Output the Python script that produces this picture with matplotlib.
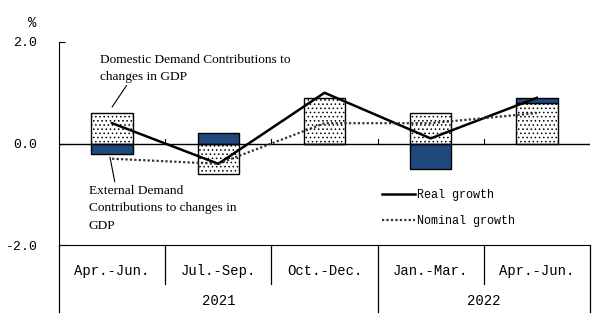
import matplotlib
matplotlib.use("Agg")
import matplotlib.pyplot as plt
from matplotlib.lines import Line2D
import numpy as np

quarters = ["Apr.-Jun.", "Jul.-Sep.", "Oct.-Dec.", "Jan.-Mar.", "Apr.-Jun."]
years = ["2021", "2022"]
year_spans = [3, 2]
domestic = [0.6, -0.6, 0.9, 0.6, 0.8]
external = [-0.2, 0.2, 0.0, -0.5, 0.1]
real = [0.4, -0.4, 1.0, 0.1, 0.9]
nominal = [-0.3, -0.4, 0.4, 0.4, 0.6]

mono = "Liberation Mono"
serif = "Liberation Serif"
navy = "#1F497D"
plt.rcParams["hatch.linewidth"] = 0.6

fig = plt.figure(figsize=(6.05, 3.25), dpi=100)
ax = fig.add_axes([59 / 605, 80 / 325, 531 / 605, 203 / 325])

x = np.arange(len(quarters)) + 0.5
w = 0.39

# stacked contributions: positives stack up, negatives stack down
dom = np.array(domestic)
ext = np.array(external)
ext_bottom = np.where(np.sign(ext) == np.sign(dom), dom, 0.0)
ax.bar(x, dom, w, color="white", edgecolor="black", hatch="....", linewidth=1.0, zorder=2)
ax.bar(x, ext, w, bottom=ext_bottom, color=navy, edgecolor="black", linewidth=1.0, zorder=2)

ax.plot(x, real, color="black", lw=1.8, zorder=4)
ax.plot(x, nominal, color="#333333", lw=1.6, ls=(0, (1, 1)), zorder=4)

ax.axhline(0, color="black", lw=1.0, zorder=3)
for b in range(1, len(quarters) + 1):
    ax.plot([b, b], [0, 0.08], color="black", lw=0.8, zorder=3)

ax.set_xlim(0, len(quarters))
ax.set_ylim(-2, 2)
ax.set_yticks([-2, 0, 2])
ax.set_yticklabels(["-2.0", "0.0", "2.0"], fontfamily=mono, fontsize=9.5)
ax.tick_params(axis="y", direction="in", length=4, pad=15.5)
ax.set_xticks([])
for s in ["top", "right"]:
    ax.spines[s].set_visible(False)
ax.text(-0.05, 1.095, "%", transform=ax.transAxes, fontfamily=mono, fontsize=10,
        ha="center", va="center")

# category axis below
trans = ax.get_xaxis_transform()
for i, q in enumerate(quarters):
    ax.text(x[i], -0.13, q, transform=trans, ha="center", va="center",
            fontfamily=mono, fontsize=10, clip_on=False)
year_edges = np.concatenate([[0], np.cumsum(year_spans)])
for b in range(len(quarters) + 1):
    bottom = -0.33 if b in year_edges else -0.19
    ax.plot([b, b], [0, bottom], transform=trans, color="black", lw=0.9, clip_on=False)
for j, yr in enumerate(years):
    mid = (year_edges[j] + year_edges[j + 1]) / 2
    ax.text(mid, -0.275, yr, transform=trans, ha="center", va="center",
            fontfamily=mono, fontsize=10, clip_on=False)

# annotations
ax.annotate("Domestic Demand Contributions to\nchanges in GDP", xy=(0.5, 0.72),
            xytext=(0.385, 1.48), textcoords="data", ha="left", va="center",
            fontfamily=serif, fontsize=9.6, linespacing=1.5,
            arrowprops=dict(arrowstyle="-", color="black", lw=0.8,
                            shrinkA=0, shrinkB=0, relpos=(0.15, 0.0)))
ax.annotate("External Demand\nContributions to changes in\nGDP", xy=(0.48, -0.27),
            xytext=(0.28, -1.28), textcoords="data", ha="left", va="center",
            fontfamily=serif, fontsize=9.6, linespacing=1.65,
            arrowprops=dict(arrowstyle="-", color="black", lw=0.8,
                            shrinkA=0, shrinkB=0, relpos=(0.18, 1.0)))

handles = [Line2D([], [], color="black", lw=1.8),
           Line2D([], [], color="#333333", lw=1.6, ls=(0, (1, 1)))]
ax.legend(handles, ["Real growth", "Nominal growth"], loc="upper left",
          bbox_to_anchor=(0.608, 0.276), frameon=False, borderpad=0, borderaxespad=0,
          handlelength=2.8, handletextpad=0.2, labelspacing=1.2,
          prop={"family": mono, "size": 8.5})

fig.savefig("out.png", dpi=100)
